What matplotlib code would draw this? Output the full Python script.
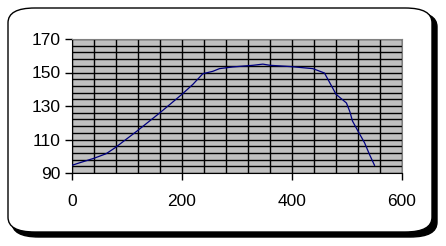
import matplotlib
matplotlib.use("Agg")
import matplotlib.pyplot as plt
from matplotlib.patches import FancyBboxPatch
import numpy as np

x_vals = [0, 13, 40, 62, 78, 118, 160, 200, 220, 238, 256, 268, 292, 329, 347,
          360, 399, 438, 459, 474, 480, 499, 505, 510, 520, 532, 541, 550]
y_vals = [94.6, 96, 98.8, 101.5, 105, 115, 126, 137, 143, 149.3, 150.7, 152.3,
          153.3, 154.3, 155, 154.3, 153.5, 152.3, 149.7, 140.7, 137, 131.8,
          126.8, 121, 115, 108, 101, 94.6]
x_ticks = [0, 200, 400, 600]
y_ticks = [90, 110, 130, 150, 170]

plt.rcParams['font.family'] = ['Liberation Sans', 'DejaVu Sans']

W, H = 446, 246
fig = plt.figure(figsize=(W / 100, H / 100), dpi=100)
fig.patch.set_facecolor('white')

# shadow and rounded frame
def px_box(x0, y0, x1, y1, **kw):
    return FancyBboxPatch((x0 / W, 1 - y1 / H), (x1 - x0) / W, (y1 - y0) / H,
                          boxstyle="round,pad=0,rounding_size=0.06",
                          transform=fig.transFigure, figure=fig, zorder=-10, **kw)

fig.patches.append(px_box(12, 12, 437, 237, facecolor='black', edgecolor='black', lw=1))
fig.patches.append(px_box(8, 8, 432, 232, facecolor='white', edgecolor='black', lw=1))

ax = fig.add_axes([72 / W, 1 - 173 / H, 330 / W, 134 / H])
ax.set_zorder(5)
ax.set_facecolor('#c0c0c0')
ax.set_xlim(0, 600)
ax.set_ylim(90, 170)
ax.set_xticks(x_ticks)
ax.set_yticks(y_ticks)
ax.set_xticks(np.arange(0, 601, 40), minor=True)
ax.set_yticks(np.arange(90, 171, 4), minor=True)
ax.grid(True, which='both', color='black', lw=1)
ax.set_axisbelow(True)
ax.tick_params(which='minor', length=0)
ax.tick_params(which='major', length=5, width=1, color='black', labelsize=12.5, pad=3)
ax.tick_params(axis='x', pad=10)
for s in ['top', 'right']:
    ax.spines[s].set_color('#808080')
for s in ['left', 'bottom']:
    ax.spines[s].set_color('black')

ax.plot(x_vals, y_vals, color='#000080', lw=0.9, zorder=3)

fig.savefig('out.png', dpi=100, facecolor='white')
